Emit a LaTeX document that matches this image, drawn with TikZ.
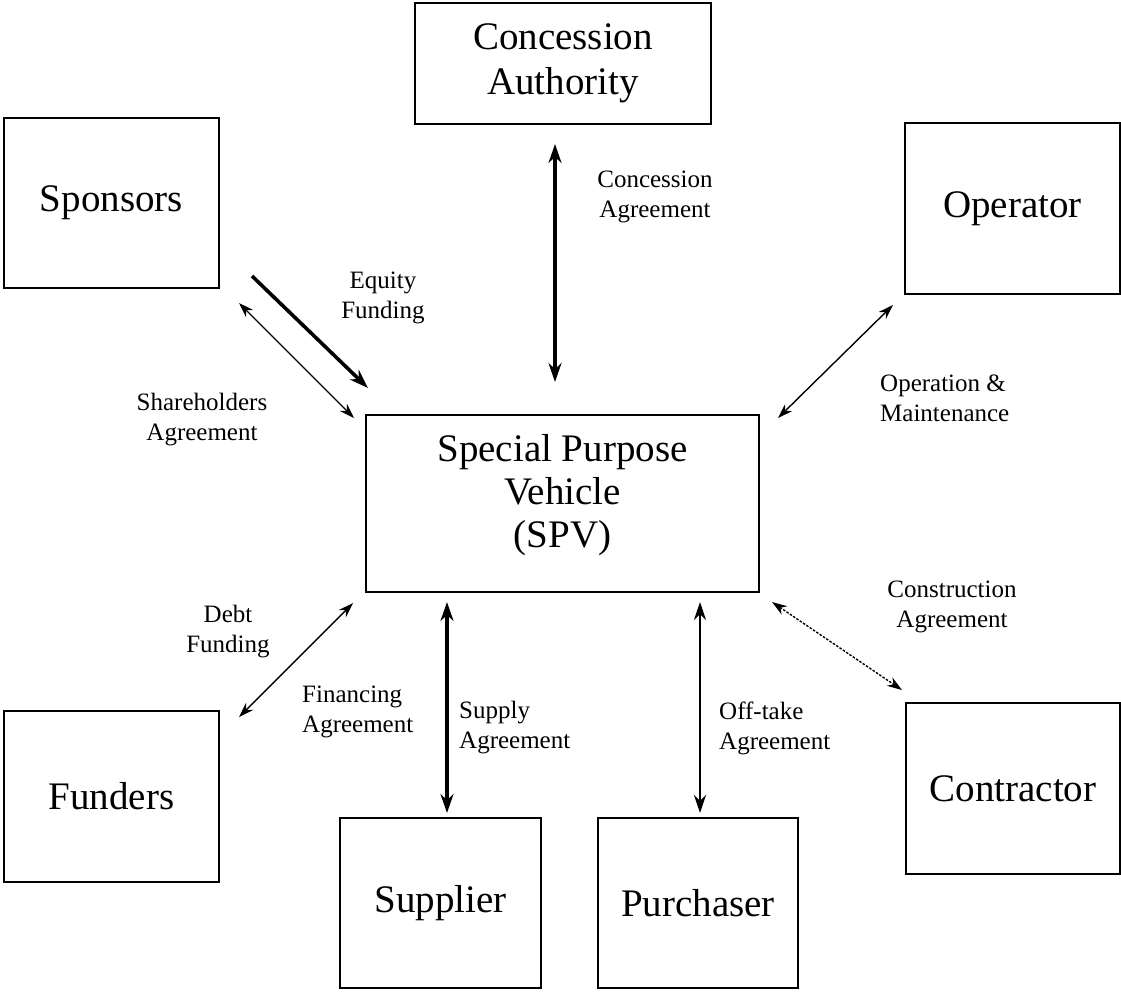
\documentclass[tikz,border=0pt]{standalone}
\usepackage{fontspec}
\setmainfont{Liberation Serif}
\usetikzlibrary{arrows.meta}
\begin{document}
\begin{tikzpicture}[x=1pt,y=-1pt,
        party/.style={draw, line width=1.6pt, inner sep=0pt, outer sep=0pt, align=center,
            font=\fontsize{39}{45}\selectfont},
        tag/.style={inner sep=0pt, font=\fontsize{25}{30}\selectfont},
        heavy/.style={line width=3.8pt, {Stealth[length=19pt,width=13pt]}-{Stealth[length=19pt,width=13pt]}},
        medium/.style={line width=2.9pt, {Stealth[length=18pt,width=12pt]}-{Stealth[length=18pt,width=12pt]}},
        light/.style={line width=1.4pt, {Stealth[length=15pt,width=10pt]}-{Stealth[length=15pt,width=10pt]}}]
    \useasboundingbox (0,0) rectangle (1121,991);
    \fill[white] (0,0) rectangle (1121,991);

    \node[party, line width=2.8pt, minimum width=393pt, minimum height=177pt] (spv) at (562.5,503.5)
        {Special Purpose\\[-2pt]Vehicle\\[-2pt](SPV)\\[-20pt]};
    \node[party, minimum width=296pt, minimum height=121pt] (ca) at (563,63.5) {Concession\\Authority};
    \node[party, minimum width=215pt, minimum height=170pt] (sp) at (111.5,203) {Sponsors};
    \node[party, minimum width=215pt, minimum height=171pt] (op) at (1012.5,208.5) {Operator};
    \node[party, minimum width=215pt, minimum height=171pt] (fu) at (111.5,796.5) {Funders};
    \node[party, minimum width=201pt, minimum height=170pt] (su) at (440.5,903) {Supplier};
    \node[party, minimum width=200pt, minimum height=170pt] (pu) at (698,903) {Purchaser};
    \node[party, minimum width=214pt, minimum height=171pt] (co) at (1013,788.5) {Contractor};

    \draw[heavy, line width=4.2pt] ([shift={(-8,20)}]ca.south) -- ([shift={(-7.5,-33)}]spv.north);
    \draw[line width=3.6pt, -{Stealth[length=19pt,width=13pt]}] ([shift={(33,-12)}]sp.south east) -- ([shift={(2,-27)}]spv.north west);
    \draw[light] ([shift={(20,15)}]sp.south east) -- ([shift={(-12,3)}]spv.north west);
    \draw[light] ([shift={(-12,11)}]op.south west) -- ([shift={(19,3)}]spv.north east);
    \draw[light] ([shift={(-13,11)}]spv.south west) -- ([shift={(20,6)}]fu.north east);
    \draw[heavy, line width=3.4pt] ([shift={(81,10)}]spv.south west) -- ([shift={(6.5,-5)}]su.north);
    \draw[medium] ([shift={(-59,10)}]spv.south east) -- ([shift={(2,-5)}]pu.north);
    \draw[light, dash pattern=on 2.5pt off 1.5pt] ([shift={(13,10)}]spv.south east) -- ([shift={(-4,-13)}]co.north west);

    \node[tag, align=center] (ca-lbl) at (655,197) {Concession\\Agreement};
    \node[tag, align=center] (eq-lbl) at (383,298) {Equity\\Funding};
    \node[tag, align=center] (sh-lbl) at (202,420) {Shareholders\\Agreement};
    \node[tag, align=left, anchor=west] (om-lbl) at (880,398) {Operation \&\\Maintenance};
    \node[tag, align=center] (db-lbl) at (228,632) {Debt\\Funding};
    \node[tag, align=left, anchor=west] (fi-lbl) at (302,712) {Financing\\Agreement};
    \node[tag, align=left, anchor=west] (su-lbl) at (459,728) {Supply\\Agreement};
    \node[tag, align=left, anchor=west] (of-lbl) at (719,728) {Off-take\\Agreement};
    \node[tag, align=center] (co-lbl) at (952,607) {Construction\\Agreement};
\end{tikzpicture}
\end{document}
